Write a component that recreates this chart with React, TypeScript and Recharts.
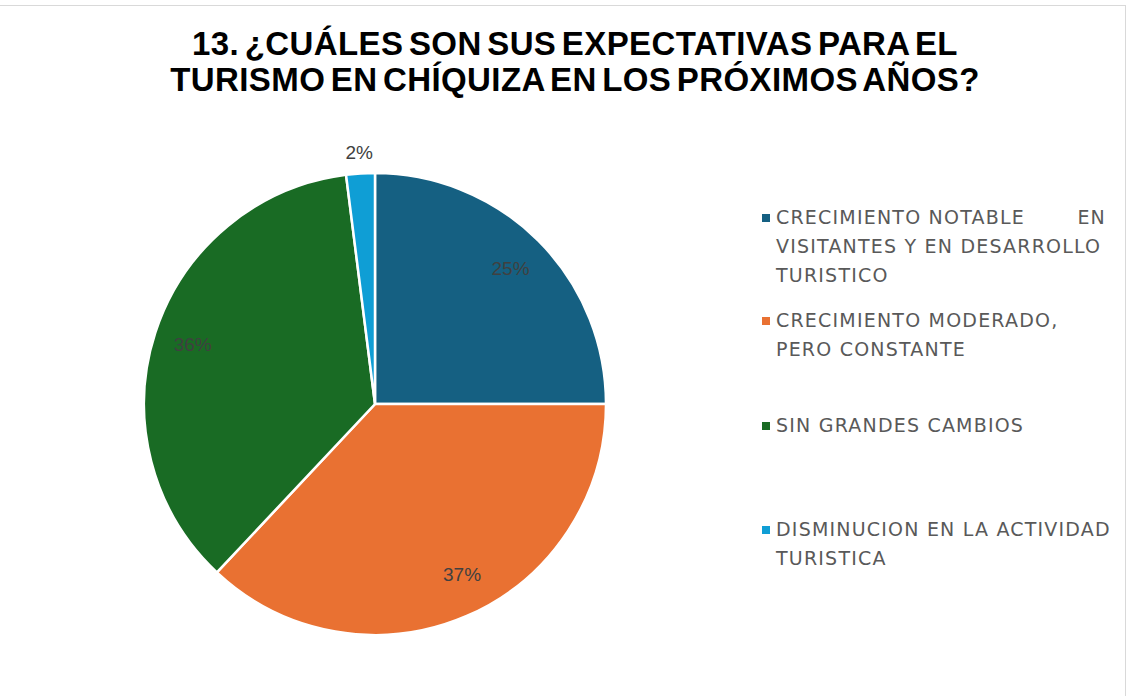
import { Cell, Legend, Pie, PieChart } from "recharts";

const categories = [
  "CRECIMIENTO NOTABLE EN VISITANTES Y EN DESARROLLO TURISTICO",
  "CRECIMIENTO MODERADO, PERO CONSTANTE",
  "SIN GRANDES CAMBIOS",
  "DISMINUCION EN LA ACTIVIDAD TURISTICA",
];

const legendLines = [
  ["CRECIMIENTO NOTABLE|EN", "VISITANTES Y EN DESARROLLO", "TURISTICO"],
  ["CRECIMIENTO MODERADO,", "PERO CONSTANTE"],
  ["SIN GRANDES CAMBIOS"],
  ["DISMINUCION EN LA ACTIVIDAD", "TURISTICA"],
];

const values = [25, 37, 36, 2];

const COLORS = ["#156082", "#e97132", "#196b24", "#0f9ed5"];

const data = categories.map((name, i) => ({ name, value: values[i] }));

const RADIAN = Math.PI / 180;
const LEGEND_GAPS = [0, 16, 47, 75];
// Excel's best-fit nudges the 37% label a bit off the slice midline
const LABEL_ANGLE_SHIFT = [0, 3.6, 0, 0];

function renderLabel(props: any) {
  const { cx, cy, midAngle, outerRadius, percent, index } = props;
  const r = index === 3 ? outerRadius + 21 : outerRadius * 0.83;
  const a = (midAngle + LABEL_ANGLE_SHIFT[index]) * RADIAN;
  const x = cx + r * Math.cos(-a);
  const y = cy + r * Math.sin(-a);
  return (
    <text
      x={x}
      y={y}
      fill="#404040"
      fontSize={19}
      fontFamily="Liberation Sans, Arial, sans-serif"
      textAnchor="middle"
      dominantBaseline="central"
    >
      {`${Math.round(percent * 100)}%`}
    </text>
  );
}

function LegendContent() {
  return (
    <div
      style={{
        width: 350,
        fontFamily: "DejaVu Sans, sans-serif",
        fontSize: 19,
        letterSpacing: 1.2,
        color: "#595959",
      }}
    >
      {legendLines.map((lines, i) => (
        <div key={i} style={{ position: "relative", paddingLeft: 14, marginTop: LEGEND_GAPS[i], lineHeight: "29px" }}>
          <span
            style={{
              position: "absolute",
              left: 0,
              top: 11,
              width: 8,
              height: 8,
              background: COLORS[i],
            }}
          />
          {lines.map((line) => {
            const parts = line.split("|");
            return (
              <div key={line} style={{ display: "flex", justifyContent: "space-between", width: 330, whiteSpace: "nowrap" }}>
                {parts.map((p) => (
                  <span key={p}>{p}</span>
                ))}
              </div>
            );
          })}
        </div>
      ))}
    </div>
  );
}

export default function App() {
  return (
    <div style={{ position: "absolute", left: 0, top: 0, width: 1127, height: 696, background: "#fff", overflow: "hidden" }}>
      <div
        style={{
          position: "absolute",
          left: 0,
          top: 5,
          width: 1125,
          height: 700,
          borderTop: "1px solid #d9d9d9",
          borderRight: "1px solid #d9d9d9",
        }}
      />
      <div
        style={{
          position: "absolute",
          left: 0,
          top: 26,
          width: 1150,
          textAlign: "center",
          fontFamily: "Liberation Sans, Arial, sans-serif",
          fontWeight: 700,
          fontSize: 33,
          letterSpacing: 0.4,
          wordSpacing: -4,
          lineHeight: "36px",
          color: "#000",
        }}
      >
        13. ¿CUÁLES SON SUS EXPECTATIVAS PARA EL
        <br />
        TURISMO EN CHÍQUIZA EN LOS PRÓXIMOS AÑOS?
      </div>
      <PieChart
        width={1127}
        height={696}
        margin={{ top: 0, right: 0, bottom: 0, left: 0 }}
        style={{ position: "absolute", left: 0, top: 0 }}
      >
        <Pie
          data={data}
          dataKey="value"
          nameKey="name"
          cx={375}
          cy={404}
          outerRadius={231}
          startAngle={90}
          endAngle={-270}
          stroke="#ffffff"
          strokeWidth={2.5}
          label={renderLabel}
          labelLine={false}
          isAnimationActive={false}
        >
          {data.map((d, i) => (
            <Cell key={d.name} fill={COLORS[i]} />
          ))}
        </Pie>
        <Legend
          layout="vertical"
          content={<LegendContent />}
          wrapperStyle={{ position: "absolute", left: 762, top: 203, width: 360 }}
        />
      </PieChart>
    </div>
  );
}
